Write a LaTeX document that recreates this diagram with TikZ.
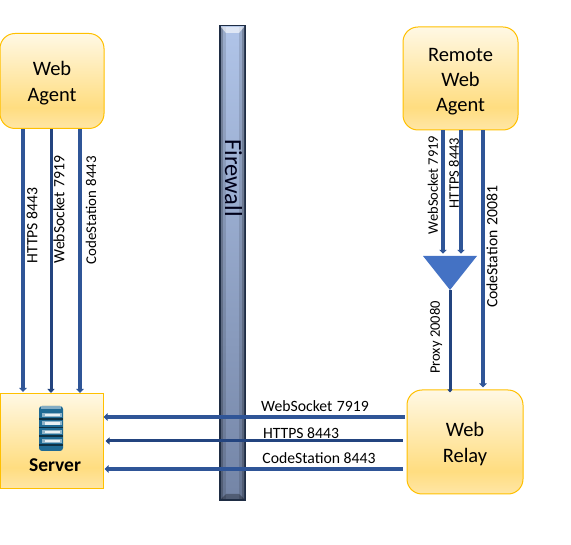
\documentclass[tikz,border=0pt]{standalone}
\usepackage{fontspec}
\setmainfont{Carlito}
\usetikzlibrary{arrows.meta,shapes.geometric}
\definecolor{edgeY}{HTML}{FFC000}
\definecolor{connT}{HTML}{2F5597}
\definecolor{connN}{HTML}{23447F}
\definecolor{triF}{HTML}{4472C4}
\definecolor{fwA}{HTML}{B0C4E8}
\definecolor{fwB}{HTML}{7485A6}
\definecolor{fwD}{HTML}{1F2D44}
\definecolor{srvA}{HTML}{1F6A94}
\definecolor{boxT}{HTML}{FFF8E4}
\definecolor{boxM}{HTML}{FFDD80}
\definecolor{boxB}{HTML}{FFE6A6}
\pgfdeclareverticalshading{boxshade}{100bp}{color(0bp)=(boxB); color(25bp)=(boxB); color(36bp)=(boxM); color(75bp)=(boxT); color(100bp)=(boxT)}
\tikzset{
  agentbox/.style={draw=edgeY,line width=1pt,rounded corners=15pt,shading=boxshade,align=center,font=\fontsize{20.5}{25.5}\selectfont,inner sep=0pt},
  thickconn/.style={draw=connT,line width=4pt,-{Stealth[length=4pt,width=7.5pt,inset=0pt]}},
  thinconn/.style={draw=connN,line width=3pt,-{Stealth[length=4pt,width=7pt,inset=0pt]}},
  lab/.style={font=\fontsize{15.7}{17}\selectfont,inner sep=0pt,text=black},
  vlab/.style={lab,rotate=90},
  vlabs/.style={font=\fontsize{14.5}{16}\selectfont,inner sep=0pt,text=black,rotate=90},
  vlabm/.style={font=\fontsize{14.9}{16}\selectfont,inner sep=0pt,text=black,rotate=90},
}
\begin{document}
\begin{tikzpicture}[x=1pt,y=-1pt]
\useasboundingbox (0,0) rectangle (571,545);
% firewall
\fill[fwD] (219,25) rectangle (246,501);
\shade[top color=fwA,bottom color=fwB] (221,27) rectangle (244,499);
\fill[black,opacity=0.12] (221,27) rectangle (226,499);
\fill[black,opacity=0.12] (239,27) rectangle (244,499);
\fill[black,opacity=0.2] (221,27) rectangle (223,499);
\fill[black,opacity=0.2] (242,27) rectangle (244,499);
\fill[white,opacity=0.6] (221,27) -- (244,27) -- (239,33) -- (226,33) -- cycle;
\fill[black,opacity=0.3] (221,499) -- (244,499) -- (239,494) -- (226,494) -- cycle;
\node[rotate=-90,font=\fontsize{24.5}{26}\selectfont,text=black!90!blue,inner sep=0pt] (fw) at (233.5,178) {Firewall};
% boxes
\node[agentbox,minimum width=104pt,minimum height=95pt] (webagent) at (52,81) {};
\node[inner sep=0pt,align=center,font=\fontsize{20.5}{26.5}\selectfont] (webagentT) at (52,83) {Web\\Agent};
\node[agentbox,minimum width=115pt,minimum height=103pt] (remote) at (460.5,78.5) {};
\node[inner sep=0pt,align=center,font=\fontsize{20.5}{25}\selectfont] (remoteT) at (460.5,81.5) {Remote\\Web\\Agent};
\node[agentbox,minimum width=116pt,minimum height=104pt] (relay) at (465,442) {};
\node[inner sep=0pt,align=center,font=\fontsize{20.5}{26}\selectfont] (relayT) at (465,444) {Web\\Relay};
\node[draw=edgeY,line width=1pt,shading=boxshade,minimum width=103pt,minimum height=95pt,inner sep=0pt] (server) at (52,441) {};
\node[font=\bfseries\fontsize{19.5}{21}\selectfont,inner sep=0pt] (srvlab) at (55,465) {Server};
% server icon
\fill[srvA,rounded corners=3pt] (39,406) -- (39,451) -- (63,451) -- (63,406) -- cycle;
\fill[white,opacity=0.45] (41,406) rectangle (61,409);
\foreach \y in {415,423.5,432,441}{
  \fill[white,opacity=0.5] (42,\y-2) rectangle (62,\y+2);
  \fill[white,opacity=0.8] (45,\y-1.2) rectangle (60,\y+1.2);
  \fill[black!55!srvA] (39,\y+3.4) rectangle (63,\y+4.6);
}
% triangle
\node[isosceles triangle,isosceles triangle apex angle=76,isosceles triangle stretches,shape border rotate=-90,minimum width=54pt,minimum height=34pt,inner sep=0pt,fill=triF,draw=none] (valve) at (450,269) {};
% guides
\coordinate (a1) at (23,0); \coordinate (a2) at (51,0); \coordinate (a3) at (80,0);
\coordinate (r1) at (443,0); \coordinate (r2) at (461,0); \coordinate (r3) at (483,0);
\coordinate (h1) at (0,417); \coordinate (h2) at (0,441); \coordinate (h3) at (0,469);
% vertical connectors
\draw[thickconn] (a1 |- webagent.south) -- ([yshift=1pt]a1 |- server.north);
\draw[thinconn] (a2 |- webagent.south) -- (a2 |- server.north);
\draw[thickconn] (a3 |- webagent.south) -- (a3 |- server.north);
\draw[thickconn] (r1 |- remote.south) -- ([yshift=2pt]r1 |- valve.lower side);
\draw[thickconn] (r2 |- remote.south) -- ([yshift=2pt]r2 |- valve.lower side);
\draw[thickconn] (r3 |- remote.south) -- ([yshift=2pt]r3 |- relay.north);
\draw[thinconn,-{Stealth[length=3pt,width=5pt,inset=0pt]}] (valve.apex) -- ([yshift=-3pt]valve.apex |- relay.north);
% horizontal connectors
\draw[thickconn] ([xshift=-2pt]relay.west |- h1) -- ([xshift=-0.5pt]server.east |- h1);
\draw[thinconn] ([xshift=-4pt]relay.west |- h2) -- ([xshift=1.5pt]server.east |- h2);
\draw[thickconn] ([xshift=-4pt]relay.west |- h3) -- ([xshift=0.5pt]server.east |- h3);
% labels
\node[vlab] (l1) at (32,225.5) {HTTPS 8443};
\node[vlab] (l2) at (59,209.5) {WebSocket\hspace{1pt} 7919};
\node[vlabm] (l3) at (91,210) {CodeStation\hspace{1pt} 8443};
\node[vlabs] (l4) at (433,185) {WebSocket 7919};
\node[vlabs] (l5) at (454,173) {HTTPS 8443};
\node[vlab] (l6) at (492,247) {CodeStation\hspace{1pt} 20081};
\node[vlabs] (l7) at (436,337.5) {Proxy 20080};
\node[lab] (l8) at (315,406) {WebSocket\hspace{1pt} 7919};
\node[lab] (l9) at (301,433) {HTTPS 8443};
\node[lab] (l10) at (319,458) {CodeStation 8443};
\end{tikzpicture}
\end{document}
